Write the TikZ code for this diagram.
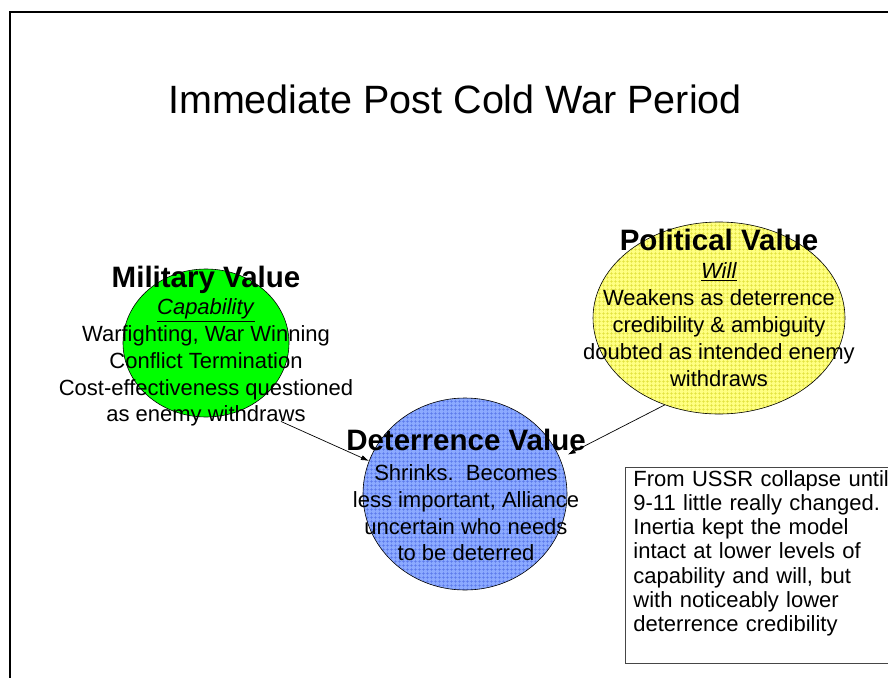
\documentclass[tikz,border=0pt]{standalone}
\usepackage{fontspec}
\setmainfont{Liberation Sans}
\usetikzlibrary{shapes.geometric, arrows.meta, patterns.meta, positioning}

\definecolor{detBlue}{RGB}{140,170,255}
\definecolor{detGrid}{RGB}{90,120,235}
\definecolor{polYellow}{RGB}{255,255,130}
\definecolor{polGrid}{RGB}{225,225,60}
\definecolor{noteGray}{RGB}{70,70,70}

\begin{document}
\begin{tikzpicture}[
    x=1pt, y=-1pt,
    bubble/.style={ellipse, draw=black, line width=0.6pt, inner sep=0pt},
    grid fill/.style={pattern={Hatch[angle=0, distance=4pt, line width=0.5pt]}, pattern color=#1},
    heading/.style={anchor=base, font=\fontsize{29.5}{32}\selectfont\bfseries, inner sep=0pt},
    body/.style={anchor=base, align=center, inner sep=0pt, font=\fontsize{22}{26.7}\selectfont},
    arrow/.style={-{Latex[length=8pt, width=5pt]}, line width=0.7pt}
  ]
  \useasboundingbox (0,0) rectangle (888,677);

  % frame
  \draw[line width=1.8pt] (10,690) -- (10,12) -- (900,12);

  \node[anchor=base, font=\fontsize{39.5}{47}\selectfont] (title) at (455,113) {Immediate Post Cold War Period};

  % bubbles
  \node[bubble, fill=green, minimum width=166pt, minimum height=148pt] (mil) at (206,343) {};
  \node[bubble, preaction={fill=detBlue}, grid fill=detGrid, minimum width=204pt, minimum height=192pt] (det) at (465,494) {};
  \node[bubble, preaction={fill=polYellow}, grid fill=polGrid, minimum width=252pt, minimum height=192pt] (pol) at (719,318) {};

  % texts (body nodes sit on the baseline of their last line)
  \node[heading] (milHead) at (206,287) {Military Value};
  \node[body] (milBody) at (206,421.7) {\underline{\textit{Capability}}\\Warfighting, War Winning\\Conflict Termination\\Cost-effectiveness questioned\\as enemy withdraws};

  \node[heading] (detHead) at (466,450) {Deterrence Value};
  \node[body] (detBody) at (466,560.7) {Shrinks.\ \ Becomes\\less important, Alliance\\uncertain who needs\\to be deterred};

  \node[heading] (polHead) at (719,250) {Political Value};
  \node[body, font=\fontsize{22}{26.9}\selectfont] (polBody) at (719,386) {\underline{\textit{Will}}\\Weakens as deterrence\\credibility \& ambiguity\\doubted as intended enemy\\withdraws};

  % note
  \node[draw=noteGray, line width=0.8pt, anchor=north west, align=left, text width=275pt, inner xsep=8pt, inner ysep=3pt, text height=16pt, text depth=174pt, font=\fontsize{22}{24.17}\selectfont] (note) at (625,467) {From USSR collapse until\\9-11 little really changed.\\Inertia kept the model\\intact at lower levels of\\capability and will, but\\with noticeably lower\\deterrence credibility};

  % arrows
  \draw[arrow] ([xshift=75pt, yshift=5pt]milBody.south) -- (det.161);
  \draw[arrow] (pol.238) -- ([shift={(8pt,3pt)}]det.21);

\end{tikzpicture}
\end{document}
